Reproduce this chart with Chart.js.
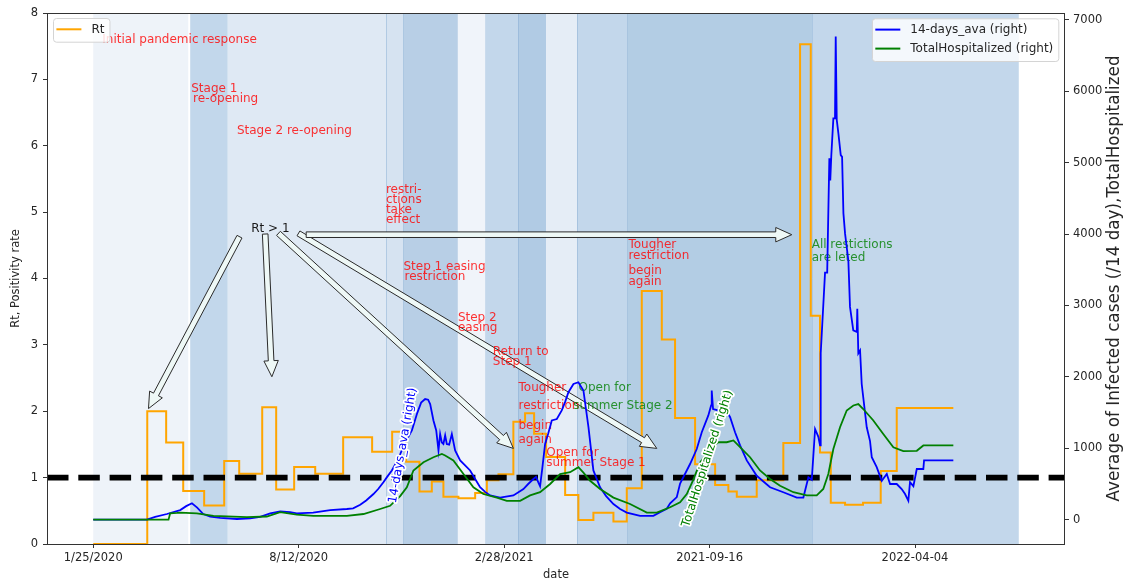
<!DOCTYPE html>
<html>
<head>
<meta charset="utf-8">
<script src="https://cdn.jsdelivr.net/npm/chart.js@4.4.1/dist/chart.umd.min.js"></script>
<style>
  html, body { margin: 0; padding: 0; background: #ffffff; }
  #wrap { width: 1130px; height: 580px; position: relative; }
</style>
</head>
<body>
<div id="wrap"><canvas id="chart" width="1130" height="580"></canvas></div>
<script>
// Day numbers count from 2020-01-25 (day 0).
const xTickDays = [0, 200, 400, 600, 800];
const xTickLabels = ['1/25/2020', '8/12/2020', '2/28/2021', '2021-09-16', '2022-04-04'];
const rtTicks = [0, 1, 2, 3, 4, 5, 6, 7, 8];
const caseTicks = [0, 1000, 2000, 3000, 4000, 5000, 6000, 7000];

// Reproduction number, piecewise constant from each start day
const rtDays = [0, 52.6, 71, 87.6, 108, 127.5, 142.1, 164.5, 178.1, 195.6, 216.1, 243.3, 271.5, 291, 304.6,
  317.6, 329.6, 340.9, 355.5, 371.8, 383.2, 394.5, 409, 420.4, 429.2, 440.9, 459.4, 472.3, 486.9, 506.4, 519.4,
  534, 553.5, 566.4, 585.9, 605.4, 618.3, 626.5, 645.9, 671.8, 688.1, 698.5, 707.5, 718, 731.9, 749.4, 766.6,
  782.2, 837.3];
const rtValues = [0, 2.0, 1.53, 0.80, 0.58, 1.25, 1.06, 2.06, 0.82, 1.16, 1.06, 1.61, 1.39, 1.69, 1.24,
  0.79, 0.94, 0.71, 0.69, 0.77, 0.96, 1.05, 1.84, 1.97, 1.66, 1.31, 0.74, 0.36, 0.47, 0.34, 0.84,
  3.81, 3.08, 1.90, 1.20, 0.89, 0.79, 0.71, 0.96, 1.52, 7.53, 3.44, 1.38, 0.62, 0.59, 0.62, 1.10,
  2.05, 2.05];

// 14-day average of new cases
const caseDays = [0, 52.3, 60.3, 71.7, 84.7, 90.5, 96.1, 101.2, 107.1, 113.9, 123.6, 139.9, 152.8, 162.5, 172.3,
  182, 191.7, 198.2, 214.1, 230.7, 246.9, 253, 259.9, 265.7, 272.8, 277.4, 282.5, 286.1, 290.7, 294.9, 298.8,
  303.7, 310.2, 315.1, 319.2, 323.1, 326, 328, 331.2, 333.9, 336.1, 337.7, 339.4, 340.9, 342.6, 344.2, 346.5,
  349.1, 352.3, 357.2, 362, 366.9, 371.8, 376.6, 381.5, 386.4, 396.1, 409, 418.8, 423.4, 428.5, 431.1, 433.4,
  435, 437, 439.9, 442.8, 446.4, 451.3, 456.1, 459.4, 462.6, 467.5, 472.3, 477.2, 482.1, 486.9, 493.4, 499.3,
  506.4, 512.9, 519.4, 532.4, 545.3, 551.8, 558.3, 561.6, 568.1, 571.3, 581, 587.5, 592.4, 598.8, 601.5, 602.1,
  603.4, 608.6, 613.4, 620, 624.8, 629.7, 636.2, 645.9, 658.9, 671.8, 684.9, 691.3, 696.2, 699.5, 702.7, 705.9,
  707.5, 708.2, 712.4, 714.5, 716.6, 717.5, 718.5, 720.5, 722.1, 722.8, 723.8, 725.4, 727.7, 729, 730.3, 731.9,
  735.1, 736.7, 739.9, 743.3, 743.8, 744.8, 746.5, 748.1, 753, 756.2, 757.9, 762.7, 767.6, 772.5, 775.7, 782.2,
  787, 790.3, 793.5, 795.1, 798.4, 801.7, 808.1, 808.8, 837.3];
const caseValues = [0, 0, 40, 80, 135, 190, 230, 170, 80, 45, 25, 10, 20, 40, 90,
  115, 105, 90, 100, 135, 150, 160, 210, 270, 360, 430, 525, 600, 690, 800, 920,
  1080, 1250, 1480, 1640, 1690, 1680, 1620, 1390, 1250, 970, 1200, 1080, 1060, 1180, 1060, 1050,
  1200, 970, 830, 760, 690, 570, 455, 390, 340, 310, 340, 430, 500, 570, 600, 520,
  470, 700, 1060, 1200, 1390, 1410, 1530, 1650, 1785, 1900, 1925, 1810, 1295, 690, 455, 330,
  220, 150, 100, 55, 55, 105, 154, 230, 317, 505, 780, 990, 1225, 1460, 1600, 1810,
  1550, 1530, 1600, 1435, 1225, 1040, 830, 615, 455, 385, 310, 310, 595, 560, 1270, 1160,
  1040, 2330, 3460, 3460, 5060, 4750, 5100, 5620, 5620, 6765, 5600, 5410, 5105, 5080, 4290, 4005,
  3630, 2980, 2650, 2630, 2955, 2330, 2370, 1900, 1295, 1100, 875, 735, 545, 640, 500, 500,
  430, 360, 265, 525, 470, 710, 710, 830, 830];

// Patients in hospital
const hospDays = [0, 73.3, 74.9, 81.5, 84.7, 100.9, 117.1, 149.6, 169, 182, 198.2, 214.4, 246.9, 263.1, 279.3,
  289, 298.8, 305.3, 311.7, 321.5, 331.2, 339.4, 342.6, 350.6, 360.4, 370.1, 379.8, 392.9, 402.6, 415.6, 425.3,
  435, 444.8, 454.5, 464.2, 472.3, 477.2, 483.7, 493.4, 506.4, 522.6, 538.9, 548.6, 561.6, 571.3, 577.8, 583.9,
  590.7, 600.5, 608.6, 616.7, 623.2, 629.7, 639.4, 649.1, 658.9, 668.6, 681.6, 694.6, 704.3, 710.7, 715.6, 720.5,
  727, 733.5, 740, 744.8, 749.6, 759.4, 769.1, 778.9, 788.6, 801.7, 808.1, 837.3];
const hospValues = [0, 0, 90, 95, 100, 90, 55, 35, 45, 105, 70, 55, 55, 80, 150,
  195, 330, 455, 690, 805, 875, 920, 900, 830, 640, 455, 360, 310, 265, 265, 340,
  385, 500, 640, 665, 735, 660, 545, 430, 310, 220, 100, 100, 175, 245, 360, 550,
  800, 1000, 1085, 1085, 1110, 1015, 875, 690, 570, 475, 385, 340, 340, 430, 640, 990,
  1295, 1530, 1600, 1620, 1550, 1390, 1200, 1015, 960, 965, 1040, 1040];

const rtThreshold = 1;

// Policy phases (start / end day) and their shading
const phaseStart = [0, 94.4, 131, 285, 302, 355, 381.5, 413.6, 441, 471, 520, 700];
const phaseEnd = [92.5, 131, 285, 302, 355, 381.5, 413.6, 441, 471, 520, 700, 901];
const phaseEdgeDays = [285, 302, 413.6, 471, 520, 700];

// Axis limits
const X_MIN = -45, X_MAX = 946;
const Y1_MIN = -340, Y1_MAX = 7095;

// ---- styles ----
const FONT = '"DejaVu Sans", "Liberation Sans", sans-serif';
const phaseFill = ['#eef3f9', '#c2d7eb', '#dfe9f4', '#d6e3f1', '#b8cfe6', '#f0f4fa', '#c3d7eb', '#b1cbe4',
  '#e5edf6', '#c3d7eb', '#b3cde4', '#c3d7eb'];
const RED = 'rgba(255,0,0,0.8)';
const GREEN_TXT = 'rgba(0,128,0,0.8)';
const INK = '#262626';

// Policy notes, anchored at (day, Rt) by their left baseline
const notes = [
  ['Initial pandemic response', 8.8, 7.55, RED],
  ['Stage 1', 95.4, 6.81, RED],
  ['re-opening', 97.2, 6.66, RED],
  ['Stage 2 re-opening', 139.9, 6.17, RED],
  ['restri-', 284.9, 5.29, RED],
  ['ctions', 284.9, 5.14, RED],
  ['take', 284.9, 4.99, RED],
  ['effect', 284.9, 4.83, RED],
  ['Rt > 1', 153.8, 4.70, '#1a1a1a'],
  ['Step 1 easing', 302, 4.13, RED],
  ['restriction', 303, 3.97, RED],
  ['Step 2', 355, 3.36, RED],
  ['easing', 355, 3.21, RED],
  ['Return to', 389, 2.84, RED],
  ['Step 1', 389, 2.70, RED],
  ['Tougher', 414, 2.31, RED],
  ['restriction', 414, 2.03, RED],
  ['begin', 414, 1.73, RED],
  ['again', 414, 1.52, RED],
  ['Open for', 472.4, 2.31, GREEN_TXT],
  ['summer Stage 2', 467.2, 2.03, GREEN_TXT],
  ['Open for', 441, 1.33, RED],
  ['summer Stage 1', 441, 1.18, RED],
  ['Tougher', 521, 4.46, RED],
  ['restriction', 521, 4.29, RED],
  ['begin', 521, 4.07, RED],
  ['again', 521, 3.90, RED],
  ['All restictions', 699.4, 4.46, GREEN_TXT],
  ['are leted', 699.4, 4.27, GREEN_TXT]
];

// Arrows from the "Rt > 1" note to the waves it refers to: [startDay, startRt, tipDay, tipRt]
const arrows = [
  [142.4, 4.63, 53.8, 2.04],
  [167.4, 4.67, 173.9, 2.52],
  [180.3, 4.68, 409, 1.44],
  [199.8, 4.68, 548.6, 1.44],
  [207.3, 4.66, 680, 4.66]
];

// Inline series labels: [text, day, value on right axis, angle in degrees, colour]
const lineLabels = [
  ['14-days_ava (right)', 301.5, 1040, -80, '#0000ff'],
  ['TotalHospitalized (right)', 598, 855, -72.2, '#008000']
];

const pts = (xs, ys) => xs.map((d, i) => ({ x: d, y: ys[i] }));

function drawArrow(ctx, x0, y0, x1, y1) {
  const dx = x1 - x0, dy = y1 - y0;
  const len = Math.hypot(dx, dy);
  const ux = dx / len, uy = dy / len;
  const nx = -uy, ny = ux;
  const w = 2.8, h = 7.2, L = 16;
  const bx = x1 - ux * L, by = y1 - uy * L;
  ctx.beginPath();
  ctx.moveTo(x0 + nx * w, y0 + ny * w);
  ctx.lineTo(bx + nx * w, by + ny * w);
  ctx.lineTo(bx + nx * h, by + ny * h);
  ctx.lineTo(x1, y1);
  ctx.lineTo(bx - nx * h, by - ny * h);
  ctx.lineTo(bx - nx * w, by - ny * w);
  ctx.lineTo(x0 - nx * w, y0 - ny * w);
  ctx.closePath();
  ctx.fillStyle = '#eef8f6';
  ctx.fill();
  ctx.lineWidth = 1;
  ctx.strokeStyle = '#2b2b2b';
  ctx.lineJoin = 'miter';
  ctx.stroke();
}

function drawLegend(ctx, items, left, top, alignRight) {
  ctx.font = '12px ' + FONT;
  let tw = 0;
  items.forEach(it => { tw = Math.max(tw, ctx.measureText(it.label).width); });
  const w = 38.4 + tw + 5;
  const h = 4.7 + 19 * items.length;
  const x = alignRight ? left - w : left;
  ctx.save();
  ctx.beginPath();
  ctx.roundRect(x + 0.5, top + 0.5, w, h, 3);
  ctx.fillStyle = 'rgba(255,255,255,0.82)';
  ctx.fill();
  ctx.strokeStyle = '#d4d4d4';
  ctx.lineWidth = 1;
  ctx.stroke();
  items.forEach((it, i) => {
    const cy = top + 11.3 + 19 * i;
    ctx.beginPath();
    ctx.moveTo(x + 3.4, cy);
    ctx.lineTo(x + 28.4, cy);
    ctx.strokeStyle = it.color;
    ctx.lineWidth = 2;
    ctx.stroke();
    ctx.fillStyle = INK;
    ctx.textAlign = 'left';
    ctx.textBaseline = 'middle';
    ctx.fillText(it.label, x + 38.4, cy + 0.5);
  });
  ctx.restore();
}

const overlay = {
  id: 'overlay',
  beforeDatasetsDraw(chart) {
    const { ctx, chartArea: a, scales: { x } } = chart;
    ctx.save();
    ctx.beginPath();
    ctx.rect(a.left, a.top, a.right - a.left, a.bottom - a.top);
    ctx.clip();
    phaseStart.forEach((s, i) => {
      const x0 = x.getPixelForValue(s), x1 = x.getPixelForValue(phaseEnd[i]);
      ctx.fillStyle = phaseFill[i];
      ctx.fillRect(x0, a.top, x1 - x0, a.bottom - a.top);
    });
    ctx.strokeStyle = 'rgba(110,155,200,0.35)';
    ctx.lineWidth = 1;
    phaseEdgeDays.forEach(d => {
      const px = Math.round(x.getPixelForValue(d)) + 0.5;
      ctx.beginPath();
      ctx.moveTo(px, a.top);
      ctx.lineTo(px, a.bottom);
      ctx.stroke();
    });
    ctx.restore();
  },
  afterDatasetDraw(chart, args) {
    if (args.index !== 2) return;
    const { ctx, scales: { x, y } } = chart;
    ctx.save();
    arrows.forEach(([d0, r0, d1, r1]) => {
      drawArrow(ctx, x.getPixelForValue(d0), y.getPixelForValue(r0), x.getPixelForValue(d1), y.getPixelForValue(r1));
    });
    ctx.font = '12px ' + FONT;
    ctx.textAlign = 'left';
    ctx.textBaseline = 'alphabetic';
    notes.forEach(([t, d, r, c]) => {
      ctx.fillStyle = c;
      ctx.fillText(t, x.getPixelForValue(d), y.getPixelForValue(r));
    });
    ctx.restore();
  },
  afterDatasetsDraw(chart) {
    const { ctx, chartArea: a, scales: { x, y1 } } = chart;
    ctx.save();
    ctx.font = '12px ' + FONT;
    ctx.textAlign = 'center';
    ctx.textBaseline = 'middle';
    lineLabels.forEach(([t, d, v, ang, c]) => {
      ctx.save();
      ctx.translate(x.getPixelForValue(d), y1.getPixelForValue(v));
      ctx.rotate(ang * Math.PI / 180);
      ctx.lineWidth = 3.5;
      ctx.lineJoin = 'round';
      ctx.strokeStyle = '#ffffff';
      ctx.strokeText(t, 0, 0);
      ctx.fillStyle = c;
      ctx.fillText(t, 0, 0);
      ctx.restore();
    });
    ctx.restore();

    const ds = chart.data.datasets;
    drawLegend(ctx, [{ label: ds[3].label, color: ds[3].borderColor }], a.left + 6, a.top + 5, false);
    drawLegend(ctx, [
      { label: ds[1].label, color: ds[1].borderColor },
      { label: ds[0].label, color: ds[0].borderColor }
    ], a.right - 6.7, a.top + 5.3, true);
  },
  afterDraw(chart) {
    const { ctx, chartArea: a } = chart;
    ctx.save();
    ctx.strokeStyle = '#333333';
    ctx.lineWidth = 1;
    ctx.strokeRect(a.left + 0.5, a.top + 0.5, a.right - a.left - 1, a.bottom - a.top);
    ctx.fillStyle = INK;
    ctx.textAlign = 'center';
    ctx.textBaseline = 'middle';
    ctx.font = '11.5px ' + FONT;
    ctx.fillText('date', (a.left + a.right) / 2, 575);
    ctx.save();
    ctx.translate(16.5, (a.top + a.bottom) / 2);
    ctx.rotate(-Math.PI / 2);
    ctx.fillText('Rt, Positivity rate', 0, 0);
    ctx.restore();
    ctx.save();
    ctx.translate(1115, (a.top + a.bottom) / 2);
    ctx.rotate(-Math.PI / 2);
    ctx.font = '16.8px ' + FONT;
    ctx.fillText('Average of Infected cases (/14 day),TotalHospitalized', 0, 0);
    ctx.restore();
    ctx.restore();
  }
};

const tickFont = { family: FONT, size: 11.5 };
const tickGrid = { drawOnChartArea: false, drawTicks: true, tickLength: 4, color: '#333333', lineWidth: 1 };

new Chart(document.getElementById('chart'), {
  type: 'line',
  data: {
    datasets: [
      {
        label: 'TotalHospitalized (right)', data: pts(hospDays, hospValues), yAxisID: 'y1',
        borderColor: '#008000', borderWidth: 1.8, pointRadius: 0, tension: 0, order: 1
      },
      {
        label: '14-days_ava (right)', data: pts(caseDays, caseValues), yAxisID: 'y1',
        borderColor: '#0000ff', borderWidth: 1.8, pointRadius: 0, tension: 0, order: 2
      },
      {
        label: 'Rt = 1', data: [{ x: X_MIN, y: rtThreshold }, { x: X_MAX, y: rtThreshold }], yAxisID: 'y',
        borderColor: '#000000', borderWidth: 5.6, borderDash: [21.5, 9.8], borderCapStyle: 'butt',
        pointRadius: 0, order: 3
      },
      {
        label: 'Rt', data: pts(rtDays, rtValues), yAxisID: 'y', stepped: 'before',
        borderColor: '#ffa500', borderWidth: 2, pointRadius: 0, order: 4
      }
    ]
  },
  options: {
    responsive: false,
    animation: false,
    devicePixelRatio: 1,
    layout: { padding: { top: 13, left: 0, right: 0, bottom: 0 } },
    plugins: { legend: { display: false }, tooltip: { enabled: false } },
    scales: {
      x: {
        type: 'linear', min: X_MIN, max: X_MAX,
        afterBuildTicks: s => { s.ticks = xTickDays.map(v => ({ value: v })); },
        afterFit: s => { s.height = 36; },
        ticks: {
          autoSkip: false, maxRotation: 0, font: tickFont, color: INK, padding: 3,
          callback: v => { const i = xTickDays.indexOf(v); return i >= 0 ? xTickLabels[i] : ''; }
        },
        grid: tickGrid,
        border: { display: false }
      },
      y: {
        position: 'left', min: 0, max: 8,
        afterBuildTicks: s => { s.ticks = rtTicks.map(v => ({ value: v })); },
        afterFit: s => { s.width = 47; },
        ticks: { font: tickFont, color: INK, padding: 5, callback: v => String(v) },
        grid: tickGrid,
        border: { display: false }
      },
      y1: {
        position: 'right', min: Y1_MIN, max: Y1_MAX,
        afterBuildTicks: s => { s.ticks = caseTicks.map(v => ({ value: v })); },
        afterFit: s => { s.width = 65; },
        ticks: { font: tickFont, color: INK, padding: 4, callback: v => String(v) },
        grid: tickGrid,
        border: { display: false }
      }
    }
  },
  plugins: [overlay]
});
</script>
</body>
</html>
